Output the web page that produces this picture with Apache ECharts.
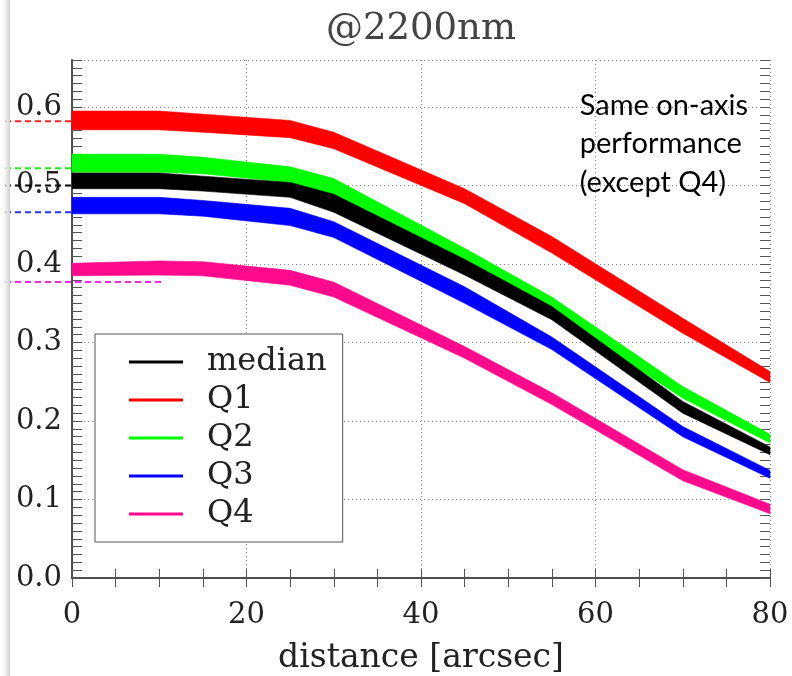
<!DOCTYPE html>
<html><head><meta charset="utf-8">
<script src="https://cdn.jsdelivr.net/npm/echarts@6/dist/echarts.min.js"></script>
<style>html,body{margin:0;padding:0;background:#fff}#c{width:792px;height:676px}</style>
</head><body><div id="c"></div>
<script>
// ---- data ----
const distance = [0, 10, 15, 25, 30, 45, 55, 70, 80];
const q1Upper = [0.595, 0.595, 0.591, 0.583, 0.568, 0.496, 0.435, 0.331, 0.263];
const q1Lower = [0.571, 0.571, 0.568, 0.561, 0.547, 0.477, 0.414, 0.312, 0.249];
const q2Upper = [0.540, 0.540, 0.536, 0.524, 0.509, 0.420, 0.358, 0.244, 0.183];
const q2Lower = [0.517, 0.517, 0.515, 0.504, 0.485, 0.401, 0.339, 0.229, 0.172];
const medUpper = [0.516, 0.516, 0.512, 0.504, 0.489, 0.406, 0.346, 0.225, 0.167];
const medLower = [0.496, 0.496, 0.493, 0.485, 0.466, 0.386, 0.329, 0.210, 0.157];
const q3Upper = [0.485, 0.485, 0.481, 0.471, 0.454, 0.371, 0.307, 0.193, 0.137];
const q3Lower = [0.464, 0.464, 0.461, 0.449, 0.434, 0.350, 0.291, 0.180, 0.127];
const q4Upper = [0.401, 0.404, 0.403, 0.392, 0.377, 0.295, 0.236, 0.138, 0.094];
const q4Lower = [0.385, 0.386, 0.385, 0.373, 0.358, 0.280, 0.221, 0.124, 0.082];
const legendNames = ['median', 'Q1', 'Q2', 'Q3', 'Q4'];
// on-axis reference levels (dashed marks at left)
const refNames = ['Q1', 'Q2', 'median', 'Q3', 'Q4'];
const refLevels = [0.582, 0.522, 0.500, 0.466, 0.377];
const refEnds = [0, 0, 0, 0, 10.4];
const xTicks = [0, 20, 40, 60, 80];
const yTicks = [0.0, 0.1, 0.2, 0.3, 0.4, 0.5, 0.6];
const titleText = '@2200nm';
const xName = 'distance [arcsec]';
const noteText = 'Same on-axis\nperformance\n(except Q4)';

// ---- styling / layout ----
const colors = { median: '#000000', Q1: '#ff0000', Q2: '#00ff00', Q3: '#0000ff', Q4: '#ff0a8c' };
const dashColors = { median: '#000000', Q1: '#ff2020', Q2: '#22ee22', Q3: '#2233ff', Q4: '#ff22ee' };
const serif = 'DejaVu Serif';
const G = { left: 72, right: 22, top: 60, bottom: 98 };
const plotW = 792 - G.left - G.right;
const xMin = 0, xMax = 80, yMin = 0, yMax = 0.66;
const dashLeftPx = 5;
const xLeft = -(G.left - dashLeftPx) * (xMax - xMin) / plotW;

const bands = [
  { key: 'Q1', up: q1Upper, lo: q1Lower },
  { key: 'Q2', up: q2Upper, lo: q2Lower },
  { key: 'median', up: medUpper, lo: medLower },
  { key: 'Q3', up: q3Upper, lo: q3Lower },
  { key: 'Q4', up: q4Upper, lo: q4Lower }
];

const series = [];
bands.forEach((b, bi) => {
  const rows = distance.map((x, i) => [x, b.lo[i], b.up[i]]);
  series.push({
    type: 'custom', xAxisIndex: 0, yAxisIndex: 0, silent: true, z: 3 + bi * 0.01,
    data: rows, encode: { x: 0, y: [1, 2] },
    renderItem: function (params, api) {
      if (params.dataIndex !== 0) return null;
      const pts = [];
      for (let i = 0; i < rows.length; i++) pts.push(api.coord([rows[i][0], rows[i][2]]));
      for (let i = rows.length - 1; i >= 0; i--) pts.push(api.coord([rows[i][0], rows[i][1]]));
      return { type: 'polygon', shape: { points: pts },
        style: { fill: colors[b.key], stroke: colors[b.key], lineWidth: 0.6 } };
    }
  });
});
// legend-only series
legendNames.forEach(n => {
  series.push({ type: 'line', name: n, xAxisIndex: 0, yAxisIndex: 0, data: [], color: colors[n],
    itemStyle: { color: colors[n] }, lineStyle: { color: colors[n] } });
});
// dashed on-axis reference marks
refNames.forEach((n, i) => {
  series.push({
    type: 'line', xAxisIndex: 3, yAxisIndex: 3, silent: true, symbol: 'none', z: 4,
    data: [[xLeft, refLevels[i]], [refEnds[i], refLevels[i]]],
    lineStyle: { color: dashColors[n], width: 2, type: [6, 4] }
  });
});

const tickCol = '#555';
const frame = { show: true, lineStyle: { color: '#444', width: 1.5 } };
const isMult = (v, step) => Math.abs(v / step - Math.round(v / step)) < 1e-6;
const gridBox = { left: G.left, right: G.right, top: G.top, bottom: G.bottom, outerBoundsMode: 'none', containLabel: false };
// minor-tick axes: drawn outward from an axis shifted 10px into the plot
const tickAxis = (gridIndex, position) => ({
  gridIndex, type: 'value', min: yMin, max: yMax, interval: 0.01, position, offset: -10,
  axisLine: { show: false }, axisTick: { show: true, inside: false, length: 10, lineStyle: { color: tickCol } },
  axisLabel: { show: false }, splitLine: { show: false }
});

const option = {
  animation: false,
  backgroundColor: '#fff',
  grid: [
    Object.assign({}, gridBox),
    Object.assign({}, gridBox, { left: dashLeftPx }),
    Object.assign({}, gridBox),
    Object.assign({}, gridBox)
  ],
  xAxis: [
    { gridIndex: 0, type: 'value', min: xMin, max: xMax, interval: 5, position: 'bottom',
      axisLine: frame, axisTick: { show: true, inside: true, length: 9, lineStyle: { color: tickCol } },
      axisLabel: { margin: 23, fontFamily: serif, fontSize: 29, color: '#222',
        formatter: v => (xTicks.indexOf(v) >= 0 ? String(v) : '') },
      splitLine: { show: false },
      name: xName, nameLocation: 'middle', nameGap: 64,
      nameTextStyle: { fontFamily: serif, fontSize: 33, color: '#222' } },
    { gridIndex: 0, type: 'value', min: xMin, max: xMax, interval: 5, position: 'top',
      axisLine: frame, axisTick: { show: true, inside: true, length: 9, lineStyle: { color: tickCol } },
      axisLabel: { show: false }, splitLine: { show: false },
      name: titleText, nameLocation: 'middle', nameGap: 12,
      nameTextStyle: { fontFamily: serif, fontSize: 37, color: '#444' } },
    { gridIndex: 2, type: 'value', min: xMin, max: xMax, interval: 20,
      axisLine: { show: false }, axisTick: { show: false }, axisLabel: { show: false },
      splitLine: { show: true, lineStyle: { color: '#888', width: 1, type: [1, 3] } } },
    { gridIndex: 1, type: 'value', min: xLeft, max: xMax, show: false },
    { gridIndex: 3, type: 'value', min: xMin, max: xMax, show: false }
  ],
  yAxis: [
    { gridIndex: 0, type: 'value', min: yMin, max: yMax, interval: 0.1, position: 'left',
      axisLine: frame, axisTick: { show: false },
      axisLabel: { margin: 10, fontFamily: serif, fontSize: 29, color: '#222',
        formatter: v => (isMult(v, 0.1) ? v.toFixed(1) : ''), showMaxLabel: false },
      splitLine: { show: false } },
    { gridIndex: 0, type: 'value', min: yMin, max: yMax, interval: 0.1, position: 'right',
      axisLine: frame, axisTick: { show: false },
      axisLabel: { show: false }, splitLine: { show: false } },
    { gridIndex: 2, type: 'value', min: yMin, max: yMax, interval: 0.1, position: 'left',
      axisLine: { show: false }, axisTick: { show: false }, axisLabel: { show: false },
      splitLine: { show: true, lineStyle: { color: '#888', width: 1, type: [1, 3] } } },
    { gridIndex: 1, type: 'value', min: yMin, max: yMax, show: false },
    tickAxis(2, 'right'),
    tickAxis(3, 'left')
  ],
  legend: {
    data: legendNames, orient: 'vertical', left: 95, top: 334,
    padding: [12, 16, 12, 34], itemGap: 6, itemWidth: 73, itemHeight: 3,
    icon: 'path://M0,0H54V3H0Z M73,0L73,3',
    itemStyle: { borderWidth: 0 },
    backgroundColor: '#fff', borderColor: '#555', borderWidth: 1, borderRadius: 0,
    selectedMode: false, z: 10,
    textStyle: { fontFamily: serif, fontSize: 32, color: '#222', lineHeight: 32 }
  },
  graphic: [
    { type: 'rect', left: 1, top: 0, silent: true, z: 100,
      shape: { width: 9, height: 676 },
      style: { fill: new echarts.graphic.LinearGradient(0, 0, 1, 0, [
        { offset: 0, color: 'rgba(255,255,255,0)' }, { offset: 0.7, color: '#e4e4e4' }, { offset: 1, color: '#cfcfcf' }]) } },
    { type: 'text', right: 44, top: 86, silent: true, z: 100,
      style: { text: noteText, align: 'right', fill: '#000', font: '29px Lato', lineHeight: 38.5 } }
  ],
  series: series
};
const chart = echarts.init(document.getElementById('c'), null, { renderer: 'canvas' });
chart.setOption(option);
</script></body></html>
